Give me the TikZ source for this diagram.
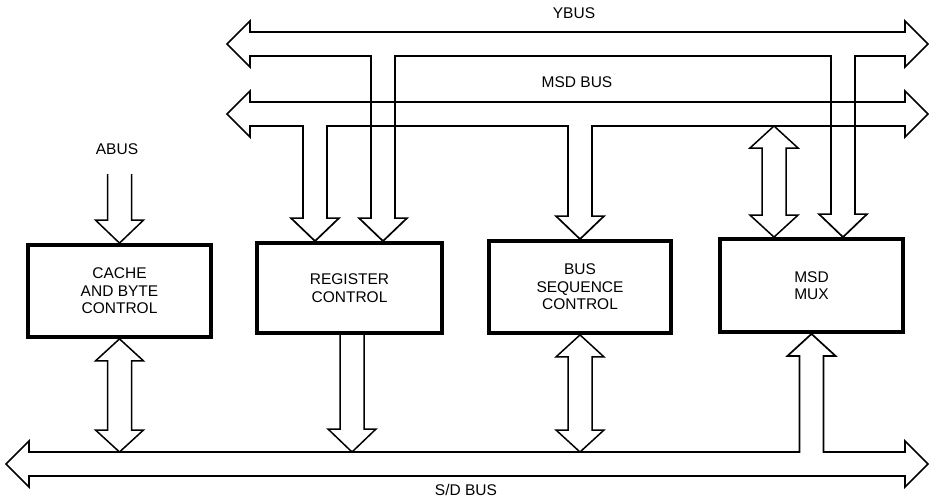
\documentclass[tikz,border=0pt]{standalone}
\usepackage{fontspec}
\setmainfont{Liberation Sans}
\usetikzlibrary{calc}

% open-topped block arrow pointing down: #1 gives the top edge, #2 the tip
\newcommand\sdown[2]{%
  \draw[blk] let \p1=(#1), \p2=(#2) in
    (\x2-12pt,\y1) -- (\x2-12pt,\y2+23pt) -- ++(-12pt,0pt) -- (\p2)
    -- ++(24pt,23pt) -- ++(-12pt,0pt) -- (\x2+12pt,\y1);}

% two-headed vertical block arrow: #1 upper tip, #2 lower tip
\newcommand\dblarrow[2]{%
  \draw[blk] let \p1=(#1), \p2=(#2) in
    (\p1) -- ++(24pt,-22pt) -- ++(-12pt,0pt) -- (\x1+12pt,\y2+22pt)
    -- ++(12pt,0pt) -- (\x1,\y2) -- ++(-24pt,22pt) -- ++(12pt,0pt)
    -- (\x1-12pt,\y1-22pt) -- ++(-12pt,0pt) -- cycle;}

\begin{document}
\begin{tikzpicture}[x=1pt,y=-1pt,
  bus/.style={draw, line width=1.7pt, line join=miter},
  blk/.style={draw, line width=1.5pt, line join=miter},
  box/.style={draw, line width=3.8pt, align=center, inner sep=0pt,
    font=\fontsize{15.5}{17.5}\selectfont},
  lbl/.style={inner sep=0pt, font=\fontsize{15.5}{17.5}\selectfont}]
\useasboundingbox (0,0) rectangle (929,501);

% functional blocks
\node[box, minimum width=183pt, minimum height=92pt] (cache) at (119.5,291) {CACHE\\AND BYTE\\CONTROL};
\node[box, minimum width=185pt, minimum height=90pt] (reg) at (349.5,288) {REGISTER\\CONTROL};
\node[box, minimum width=182pt, minimum height=92pt] (bsc) at (580,287) {BUS\\SEQUENCE\\CONTROL};
\node[box, minimum width=183pt, minimum height=93pt] (mux) at (811.5,285.5) {MSD\\MUX};

% bus labels
\node[lbl] (ylbl) at (574,13) {YBUS};
\node[lbl] (mlbl) at (577,82) {MSD BUS};
\node[lbl] (albl) at (117,149) {ABUS};
\node[lbl] (slbl) at (466,490) {S/D BUS};

% tap points on the blocks and bus edges
\coordinate (regM) at ($(reg.north)+(-34.5,0)$);
\coordinate (regY) at ($(reg.north)+(33.5,0)$);
\coordinate (regO) at ($(reg.south)+(2.5,0)$);
\coordinate (bscM) at (bsc.north);
\coordinate (muxM) at ($(mux.north)+(-37.5,0)$);
\coordinate (muxY) at ($(mux.north)+(31.5,0)$);
\coordinate (muxS) at (mux.south);
\coordinate (abus) at (119.5,174);
\coordinate (msdbot) at (0,126);
\coordinate (sdtop) at (0,452);
\coordinate (regS) at (regO |- sdtop);

% YBUS with its two drops
\draw[bus] let \p1=(regY), \p2=(muxY), \p3=(0,56) in
  (227,44) -- (250,21) -- (250,32) -- (905,32) -- (905,21) -- (928,44)
  -- (905,67) -- (905,56)
  -- (\x2+12pt,\y3) -- (\x2+12pt,\y2+23pt) -- ++(12pt,0pt) -- (\p2)
  -- ++(-24pt,23pt) -- ++(12pt,0pt) -- (\x2-12pt,\y3)
  -- (\x1+12pt,\y3) -- (\x1+12pt,\y1+23pt) -- ++(12pt,0pt) -- (\p1)
  -- ++(-24pt,23pt) -- ++(12pt,0pt) -- (\x1-12pt,\y3)
  -- (250,56) -- (250,67) -- cycle;

% MSD BUS with its two drops
\draw[bus] let \p1=(regM), \p2=(bscM), \p3=(msdbot) in
  (227,114) -- (250,91) -- (250,102) -- (905,102) -- (905,91) -- (928,114)
  -- (905,137) -- (905,126)
  -- (\x2+12pt,\y3) -- (\x2+12pt,\y2+23pt) -- ++(12pt,0pt) -- (\p2)
  -- ++(-24pt,23pt) -- ++(12pt,0pt) -- (\x2-12pt,\y3)
  -- (\x1+12pt,\y3) -- (\x1+12pt,\y1+23pt) -- ++(12pt,0pt) -- (\p1)
  -- ++(-24pt,23pt) -- ++(12pt,0pt) -- (\x1-12pt,\y3)
  -- (250,126) -- (250,137) -- cycle;

% S/D BUS with the branch up into the MSD MUX
\draw[bus] let \p1=(muxS), \p2=(sdtop) in
  (6,464) -- (29,441) -- (29,452)
  -- (\x1-12pt,\y2) -- (\x1-12pt,\y1-22pt) -- ++(-12pt,0pt) -- (\p1)
  -- ++(24pt,-22pt) -- ++(-12pt,0pt) -- (\x1+12pt,\y2)
  -- (905,452) -- (905,441) -- (928,464) -- (905,487) -- (905,476)
  -- (29,476) -- (29,487) -- cycle;

% remaining block arrows
\sdown{abus}{cache.north}
\sdown{regO}{regS}
\dblarrow{cache.south}{cache.south |- sdtop}
\dblarrow{bsc.south}{bsc.south |- sdtop}
\dblarrow{muxM |- msdbot}{muxM}
\end{tikzpicture}
\end{document}
